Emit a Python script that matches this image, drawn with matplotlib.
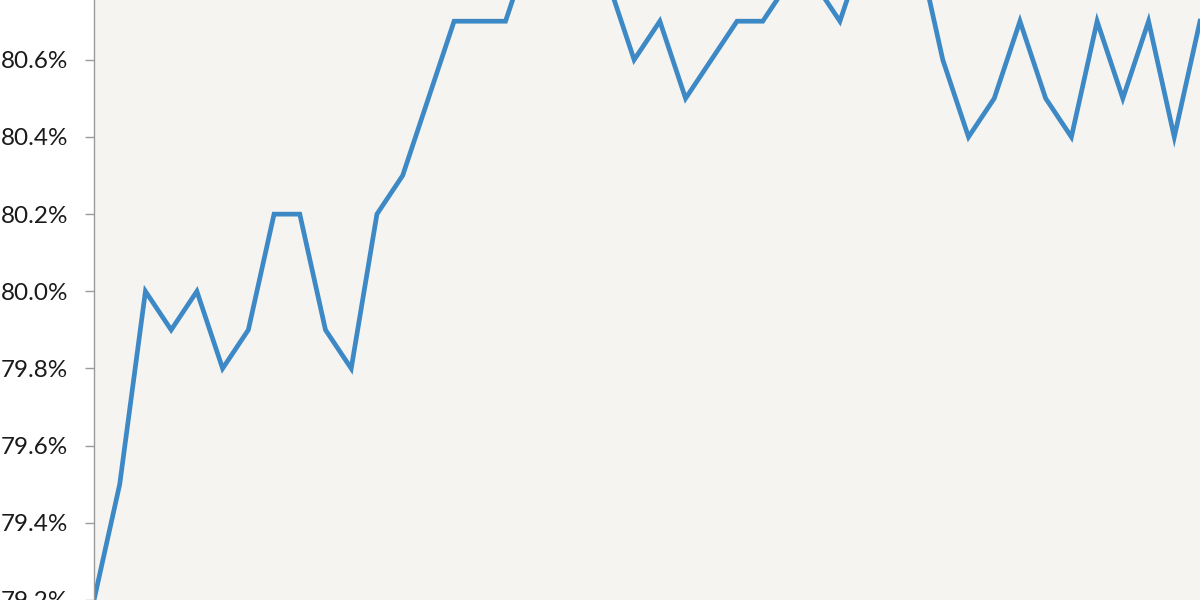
import matplotlib
matplotlib.use('Agg')
import matplotlib.pyplot as plt
from matplotlib.ticker import FuncFormatter

# Share of value, one point per period (values above ~80.75% run off the top of the crop)
periods = list(range(44))
share = [79.2, 79.5, 80.0, 79.9, 80.0, 79.8, 79.9, 80.2, 80.2, 79.9,
         79.8, 80.2, 80.3, 80.5, 80.7, 80.7, 80.7, 80.9, 81.0, 80.9,
         80.8, 80.6, 80.7, 80.5, 80.6, 80.7, 80.7, 80.8, 80.8, 80.7,
         80.9, 81.0, 80.9, 80.6, 80.4, 80.5, 80.7, 80.5, 80.4, 80.7,
         80.5, 80.7, 80.4, 80.7]
y_ticks = [79.2, 79.4, 79.6, 79.8, 80.0, 80.2, 80.4, 80.6]

plt.rcParams['font.family'] = ['Lato', 'DejaVu Sans']

fig = plt.figure(figsize=(12, 6), dpi=100, facecolor='white')
# the reference is a crop: the axes start at the left spine and run off the other edges
ax = fig.add_axes([94 / 1200, 0, 1 - 94 / 1200, 1])
ax.set_facecolor('#f5f4f1')

ax.plot(periods, share, color='#3d89c6', linewidth=3.4, solid_joinstyle='miter')

ax.set_xlim(0, 43)
ax.set_ylim(79.205, 80.755)
ax.set_yticks(y_ticks)
ax.yaxis.set_major_formatter(FuncFormatter(lambda v, _: f'{v:.1f}%'))
ax.tick_params(axis='y', length=6.5, width=1, color='#9a9a9a', pad=12,
               labelsize=17.5, labelcolor='#1a1a1a')
ax.set_xticks([])

for side in ('top', 'right', 'bottom'):
    ax.spines[side].set_visible(False)
ax.spines['left'].set_color('#9a9a9a')
ax.spines['left'].set_linewidth(1)

fig.savefig('out.png', dpi=100, facecolor='white')
